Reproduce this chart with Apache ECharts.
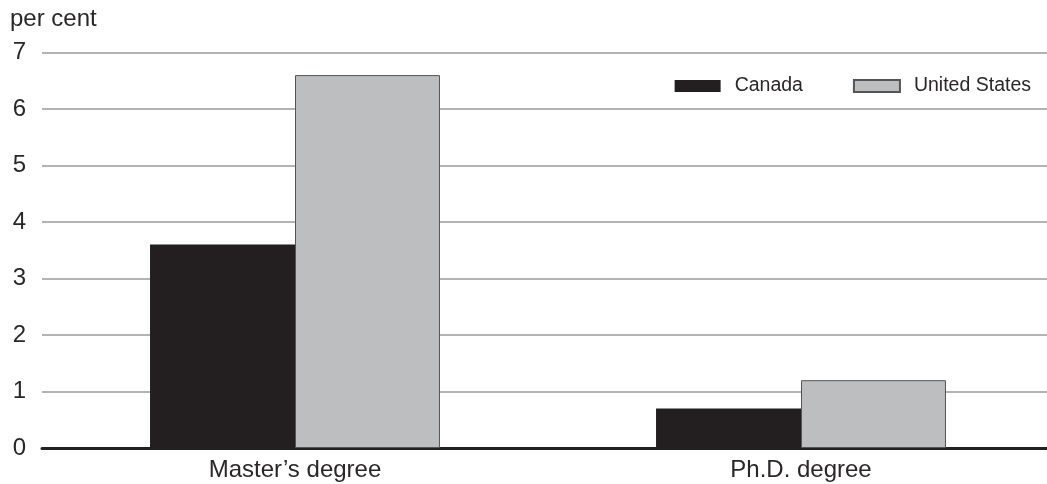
<!DOCTYPE html>
<html>
<head>
<meta charset="utf-8">
<script src="https://cdn.jsdelivr.net/npm/echarts@6/dist/echarts.min.js"></script>
<style>html,body{margin:0;padding:0;background:#fff;}#c{width:1047px;height:484px;}</style>
</head>
<body>
<div id="c"></div>
<script>
var categories = ["Master\u2019s degree", "Ph.D. degree"];
var canada = [3.6, 0.7];
var unitedStates = [6.6, 1.2];
var yTicks = [0, 1, 2, 3, 4, 5, 6, 7];

var FONT = "'Liberation Sans', Arial, sans-serif";
var TXT = '#2a2728';
var chart = echarts.init(document.getElementById('c'));
chart.setOption({
  animation: false,
  backgroundColor: '#fff',
  title: {
    text: 'per cent', left: 5, top: 2,
    textStyle: {fontFamily: FONT, fontSize: 24, fontWeight: 'normal', color: TXT}
  },
  legend: {
    right: 11, top: 71,
    icon: 'rect', itemWidth: 46, itemHeight: 12, itemGap: 50,
    textStyle: {fontFamily: FONT, fontSize: 19.5, color: TXT, padding: [0, 0, 0, 9]},
    data: ['Canada', 'United States']
  },
  grid: {left: 42, width: 1012, top: 52.5, bottom: 36, containLabel: false, outerBoundsMode: 'none'},
  xAxis: {
    type: 'category', data: categories,
    axisLine: {lineStyle: {color: '#231f20', width: 3}},
    axisTick: {show: false},
    axisLabel: {fontFamily: FONT, fontSize: 24, color: TXT, margin: 10}
  },
  yAxis: {
    type: 'value', min: 0, max: 7, interval: 1,
    axisLine: {show: false}, axisTick: {show: false},
    splitLine: {lineStyle: {color: '#9a9a9a', width: 1.5}},
    axisLabel: {fontFamily: FONT, fontSize: 24, color: TXT, margin: 16,
      formatter: function (v) { return yTicks.indexOf(v) >= 0 ? String(v) : ''; }}
  },
  series: [
    {name: 'Canada', type: 'bar', data: canada, barGap: '0%', barCategoryGap: '42.7%',
     itemStyle: {color: '#231f20'}},
    {name: 'United States', type: 'bar', data: unitedStates, barGap: '0%', barCategoryGap: '42.7%',
     itemStyle: {color: '#bcbec0', borderColor: '#555', borderWidth: 1}}
  ]
});
</script>
</body>
</html>
